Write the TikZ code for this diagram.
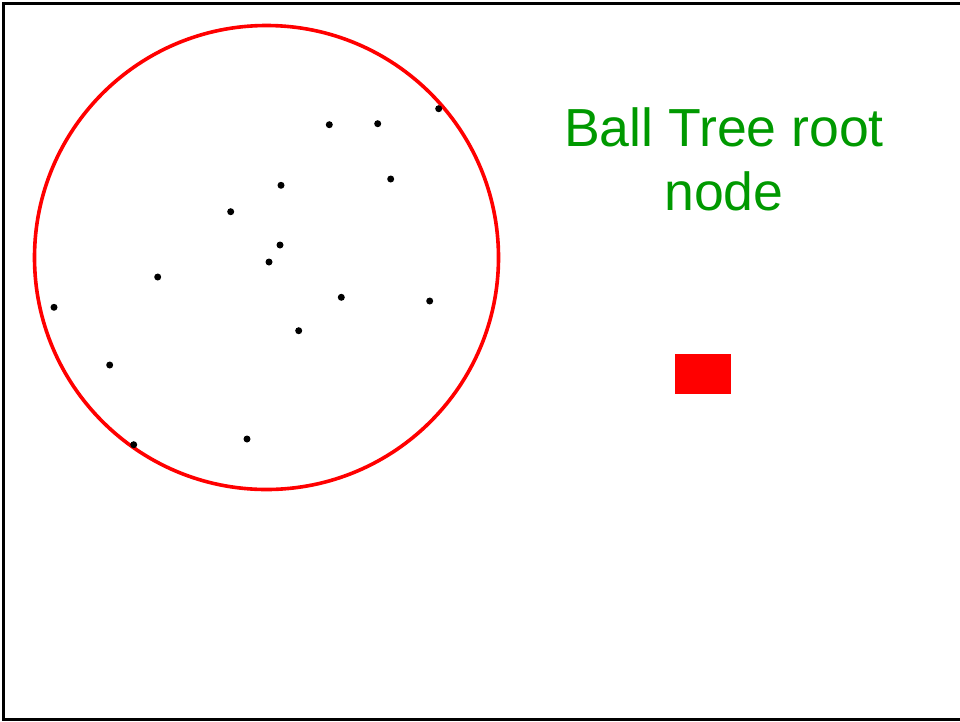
\documentclass[tikz,border=0pt]{standalone}
\usepackage{fontspec}
\setmainfont{Liberation Sans}
\usepackage{xcolor}
\usetikzlibrary{positioning}

\definecolor{labelgreen}{RGB}{0,153,0}

\begin{document}
\begin{tikzpicture}[
    x=1pt, y=-1pt,
    dot/.style={circle, fill=black, inner sep=0pt, minimum size=7pt},
    ball/.style={draw=red, line width=3.6pt},
    leaf/.style={rectangle, fill=red, inner sep=0pt, minimum width=56pt, minimum height=40pt},
    label/.style={text=labelgreen, align=center, inner sep=0pt, font=\fontsize{53.6}{63.3}\selectfont},
]

\useasboundingbox (0,0) rectangle (960,721);

% frame
\draw[line width=3pt] (960,3.5) -- (3.5,3.5) -- (3.5,719.5) -- (960,719.5);

% the ball
\draw[ball] (266.5,257.5) circle[radius=232];

% data points
\foreach \px/\py [count=\i] in {438.7/108.7, 329.3/124.7, 377.7/123.7, 390.7/179, 281/185.3,
    230.7/211.7, 280/245, 269/262, 157.7/277, 54/307.3, 341.3/297.3, 429.7/301,
    298.7/330.7, 109.7/365, 133.7/444.7, 247/439}
    \node[dot] (p\i) at (\px,\py) {};

% root node of the tree
\node[label, anchor=base] (title) at (724,210) {Ball Tree root\\node};
\node[leaf] (root) at (703,374) {};

\end{tikzpicture}
\end{document}
